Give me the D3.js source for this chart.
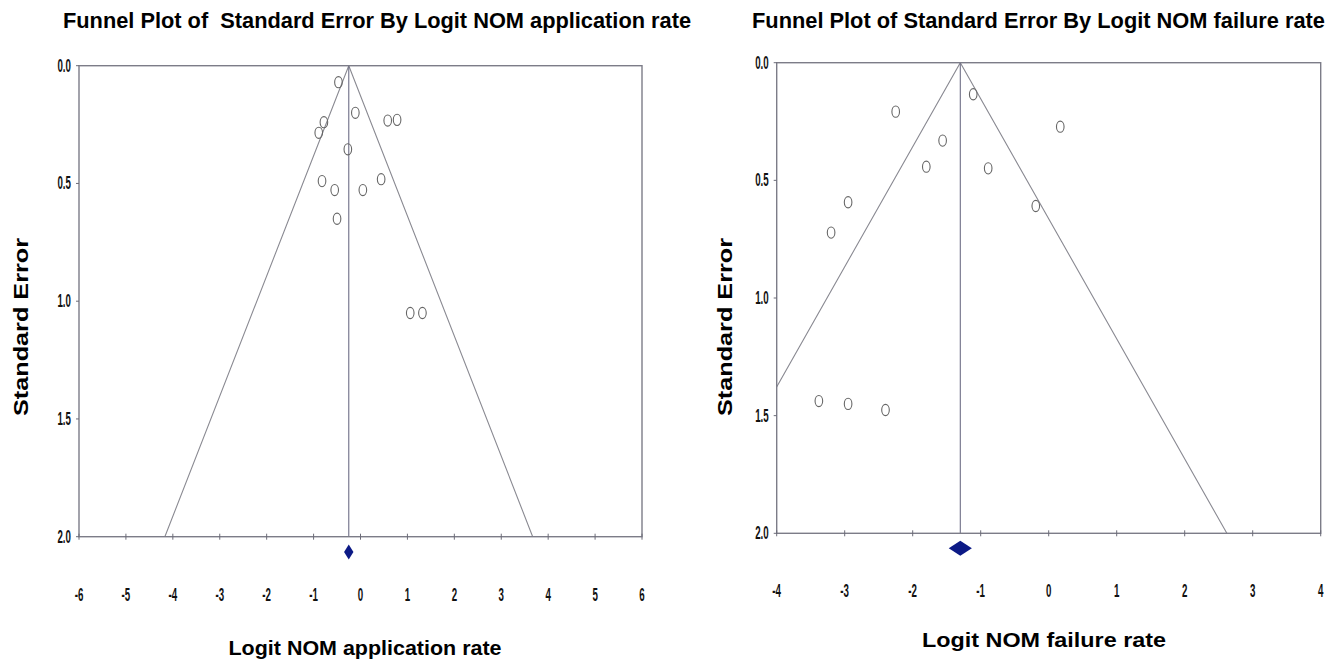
<!DOCTYPE html>
<html>
<head>
<meta charset="utf-8">
<script src="https://d3js.org/d3.v7.min.js"></script>
<style>
  body { margin: 0; background: white; }
  .title, .axis-label { font-family: "Liberation Sans", Arial, sans-serif; font-weight: bold; fill: #000; white-space: pre; }
  .tick-label { font-family: "Liberation Sans", Arial, sans-serif; font-weight: bold; font-size: 13px; fill: #111; }
  .frame { fill: none; stroke: #7c7c88; stroke-width: 1.4px; }
  .funnel { stroke: #8a8a92; stroke-width: 1.1px; fill: none; }
  .mean { stroke: #6e6e86; stroke-width: 1.1px; }
  .study { fill: none; stroke: #666; stroke-width: 1.1px; }
  .diamond { fill: #0c1a86; }
</style>
</head>
<body>
<div id="chart"></div>
<script>
// application rate panel
var appEffect = [-0.47, -0.11, -0.78, -0.89, -0.27, 0.58, 0.78, -0.82, -0.55, 0.05, 0.44, -0.50, 1.06, 1.32];
var appSE     = [0.07, 0.20, 0.24, 0.285, 0.355, 0.233, 0.23, 0.49, 0.528, 0.528, 0.482, 0.65, 1.05, 1.05];
var appPooled = -0.25;
var appCI = 0.1;
var appTicks = [-6, -5, -4, -3, -2, -1, 0, 1, 2, 3, 4, 5, 6];

// failure rate panel
var failEffect = [-2.25, -1.56, -1.80, -1.11, -0.89, 0.17, -0.19, -2.95, -3.20, -3.38, -2.95, -2.40];
var failSE     = [0.208, 0.331, 0.442, 0.134, 0.449, 0.272, 0.609, 0.593, 0.722, 1.438, 1.45, 1.476];
var failPooled = -1.30;
var failCI = 0.17;
var failTicks = [-4, -3, -2, -1, 0, 1, 2, 3, 4];

var seTicks = [0, 0.5, 1, 1.5, 2];

var width = 1341, height = 661;

var svg = d3.select('#chart').append('svg')
  .attr('width', width)
  .attr('height', height);

function drawFunnel(opt) {
  var x = d3.scaleLinear().domain(opt.xDomain).range([opt.left, opt.right]);
  var y = d3.scaleLinear().domain([0, 2]).range([opt.top, opt.bottom]);
  var g = svg.append('g');

  var clipId = 'clip' + opt.id;
  svg.append('clipPath').attr('id', clipId)
    .append('rect')
    .attr('x', opt.left).attr('y', opt.top)
    .attr('width', opt.right - opt.left).attr('height', opt.bottom - opt.top);

  // funnel (95% limits)
  var maxSE = 2;
  var funnel = [[opt.pooled - 1.96 * maxSE, maxSE], [opt.pooled, 0], [opt.pooled + 1.96 * maxSE, maxSE]];
  g.append('path')
    .attr('class', 'funnel')
    .attr('clip-path', 'url(#' + clipId + ')')
    .attr('d', d3.line().x(function (d) { return x(d[0]); }).y(function (d) { return y(d[1]); })(funnel));

  g.append('line')
    .attr('class', 'mean')
    .attr('x1', x(opt.pooled)).attr('x2', x(opt.pooled))
    .attr('y1', y(0)).attr('y2', y(2));

  g.append('rect')
    .attr('class', 'frame')
    .attr('x', opt.left).attr('y', opt.top)
    .attr('width', opt.right - opt.left).attr('height', opt.bottom - opt.top);

  // x ticks
  g.selectAll('.xt').data(opt.ticks).enter().append('line')
    .attr('stroke', '#6c6c78')
    .attr('x1', function (d) { return x(d); }).attr('x2', function (d) { return x(d); })
    .attr('y1', y(2) - 3).attr('y2', y(2) + 3);

  g.selectAll('.xl').data(opt.ticks).enter().append('text')
    .attr('class', 'tick-label')
    .attr('text-anchor', 'middle')
    .attr('transform', function (d) { return 'translate(' + x(d) + ',' + opt.tickLabelY + ') scale(0.75,1.35)'; })
    .text(function (d) { return d < 0 ? '-' + Math.abs(d) : d; });

  // y ticks
  g.selectAll('.yt').data(seTicks).enter().append('line')
    .attr('stroke', '#6c6c78')
    .attr('x1', opt.left - 3).attr('x2', opt.left)
    .attr('y1', function (d) { return y(d); }).attr('y2', function (d) { return y(d); });

  g.selectAll('.yl').data(seTicks).enter().append('text')
    .attr('class', 'tick-label')
    .attr('text-anchor', 'end')
    .attr('transform', function (d) { return 'translate(' + (opt.left - 8) + ',' + (y(d) + 6) + ') scale(0.75,1.35)'; })
    .text(function (d) { return d.toFixed(1); });

  // studies
  g.selectAll('.study').data(opt.effect).enter().append('ellipse')
    .attr('class', 'study')
    .attr('cx', function (d) { return x(d); })
    .attr('cy', function (d, i) { return y(opt.se[i]); })
    .attr('rx', 3.8).attr('ry', 5.6);

  // pooled diamond
  var dy = y(2) + opt.diamondOffset;
  g.append('path')
    .attr('class', 'diamond')
    .attr('d', 'M' + x(opt.pooled - opt.ci) + ',' + dy +
      'L' + x(opt.pooled) + ',' + (dy - opt.diamondH) +
      'L' + x(opt.pooled + opt.ci) + ',' + dy +
      'L' + x(opt.pooled) + ',' + (dy + opt.diamondH) + 'Z');

  // titles
  svg.append('text').attr('class', 'title')
    .attr('x', opt.titleX).attr('y', 28)
    .attr('font-size', 22)
    .attr('textLength', opt.titleLen)
    .attr('lengthAdjust', 'spacingAndGlyphs')
    .text(opt.title);

  svg.append('text').attr('class', 'axis-label')
    .attr('text-anchor', 'middle')
    .attr('font-size', 21)
    .attr('textLength', 178)
    .attr('lengthAdjust', 'spacingAndGlyphs')
    .attr('transform', 'translate(' + opt.yLabelX + ',327) rotate(-90)')
    .text('Standard Error');

  svg.append('text').attr('class', 'axis-label')
    .attr('text-anchor', 'middle')
    .attr('font-size', 21)
    .attr('textLength', opt.xLabelLen)
    .attr('lengthAdjust', 'spacingAndGlyphs')
    .attr('x', opt.xLabelX).attr('y', opt.xLabelY)
    .text(opt.xLabel);
}

drawFunnel({
  id: 'a', xDomain: [-6, 6], left: 79, right: 642, top: 65.7, bottom: 536.7,
  ticks: appTicks, effect: appEffect, se: appSE, pooled: appPooled, ci: appCI,
  diamondOffset: 15.3, diamondH: 7.5, tickLabelY: 601,
  title: 'Funnel Plot of  Standard Error By Logit NOM application rate', titleX: 63, titleLen: 628,
  yLabelX: 28, xLabel: 'Logit NOM application rate', xLabelX: 365, xLabelY: 655, xLabelLen: 273
});

drawFunnel({
  id: 'b', xDomain: [-4, 4], left: 776.7, right: 1320.7, top: 62.7, bottom: 533.3,
  ticks: failTicks, effect: failEffect, se: failSE, pooled: failPooled, ci: failCI,
  diamondOffset: 15, diamondH: 7.5, tickLabelY: 597,
  title: 'Funnel Plot of Standard Error By Logit NOM failure rate', titleX: 752, titleLen: 573,
  yLabelX: 732, xLabel: 'Logit NOM failure rate', xLabelX: 1044, xLabelY: 647, xLabelLen: 244
});
</script>
</body>
</html>
